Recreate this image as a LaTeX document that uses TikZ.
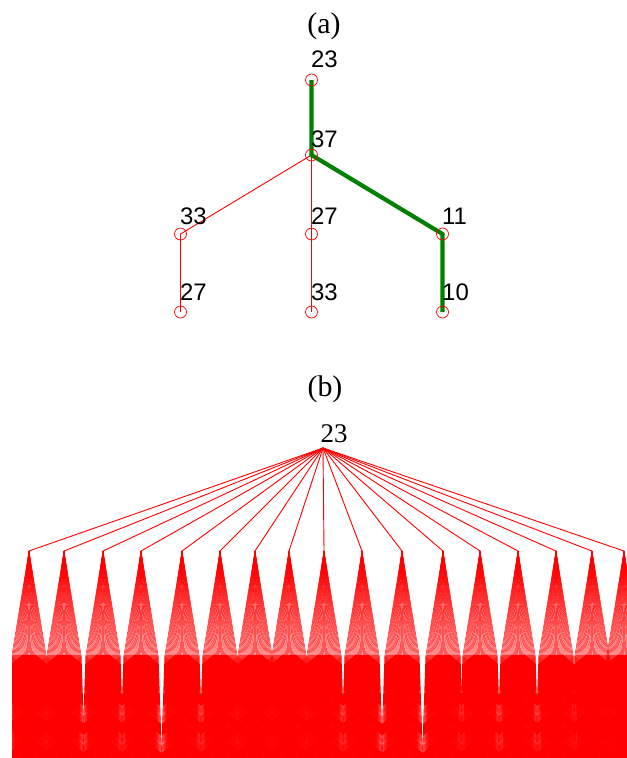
\documentclass[tikz,border=0pt]{standalone}
\usepackage{fontspec}
\setmainfont{Liberation Serif}
\newfontfamily\arialnum{Liberation Sans}
\usetikzlibrary{backgrounds}

\begin{document}
\begin{tikzpicture}[x=1bp, y=-1bp,
  vtx/.style={circle, draw=red, line width=0.7bp, minimum size=12bp, inner sep=0},
  lbl/.style={font=\arialnum\fontsize{24}{28}\selectfont, anchor=base west, inner sep=0},
  panel/.style={font=\fontsize{30}{36}\selectfont, inner sep=0},
  twig/.style={red, line width=0.9bp},
  bestpath/.style={green!50!black, line width=4.2bp},
  fan/.style={red, line width=0.45bp},
  leaf/.style={red, line width=0.9bp}]
  \useasboundingbox (0,0) rectangle (627,758);

  % (a) small tree with the marked path
  \node[panel] (capa) at (324,26) {(a)};
  \node[vtx] (n23) at (311.5,80) {};
  \node[vtx] (n37) at (311.5,155) {};
  \node[vtx] (n33) at (180.5,234) {};
  \node[vtx] (n27) at (311.5,234) {};
  \node[vtx] (n11) at (442.5,234) {};
  \node[vtx] (m27) at (180.5,312) {};
  \node[vtx] (m33) at (311.5,312) {};
  \node[vtx] (n10) at (442.5,312) {};
  \begin{scope}[on background layer]
    \draw[twig] (n37.center) -- (n33.center) -- (m27.center);
    \draw[twig] (n37.center) -- (n27.center) -- (m33.center);
    \draw[bestpath] (n23.center) -- (n37.center) -- (n11.center) -- (n10.center);
  \end{scope}
  \node[lbl] at (311,68) {23};
  \node[lbl] at (311,147) {37};
  \node[lbl] at (180,224) {33};
  \node[lbl] at (311,224) {27};
  \node[lbl] at (442,224) {11};
  \node[lbl] at (180,300) {27};
  \node[lbl] at (311,300) {33};
  \node[lbl] at (442,300) {10};

  % (b) full tree
  \node[panel] (capb) at (325,389) {(b)};
  \node[font=\fontsize{27}{32}\selectfont, anchor=base, inner sep=0] (rootlbl) at (334,442) {23};
  \coordinate (rootb) at (323,448);
  \begin{scope}
    \clip (12,0) rectangle (627,758);
    \foreach \kx [count=\i] in {29,64,103,141,182,220,255,289,324,362,402,443,480,518,556,592,624} {
      \coordinate (kid\i) at (\kx,551);
      \draw[twig] (rootb) -- (kid\i);
      \foreach \j in {0,...,35} {
        \coordinate (gk\i-\j) at ({\kx-17+34*\j/35},655);
        \draw[fan] (kid\i) -- (gk\i-\j);
        \draw[leaf] (gk\i-\j) -- ++(-3.5,104) (gk\i-\j) -- ++(0,104) (gk\i-\j) -- ++(3.5,104);
      }
    }
  \end{scope}
\end{tikzpicture}
\end{document}
